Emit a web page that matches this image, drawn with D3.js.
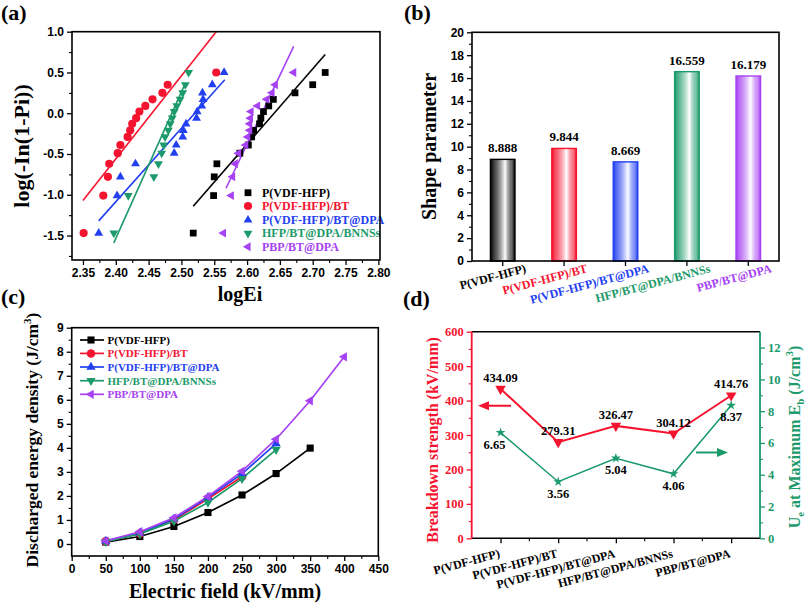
<!DOCTYPE html>
<html><head><meta charset="utf-8">
<script src="https://cdn.jsdelivr.net/npm/d3@7"></script>
<style>body{margin:0;background:#fff} svg{display:block}</style>
</head><body><svg id="c" width="808" height="605"></svg>
<script>
const SERIF = '"Liberation Serif","Times New Roman",serif';
const SANS = '"Liberation Sans",Arial,sans-serif';

// ---------- data ----------
const samples = ["P(VDF-HFP)","P(VDF-HFP)/BT","P(VDF-HFP)/BT@DPA","HFP/BT@DPA/BNNSs","PBP/BT@DPA"];
const colors = ["#000000","#f5142f","#2340f0","#1c9a6b","#a642f2"];

// (a) Weibull plot
const weibullY = [-1.47,-1.01,-0.78,-0.62,-0.49,-0.39,-0.29,-0.21,-0.13,-0.06,0.02,0.09,0.17,0.25,0.35,0.50];
const logE_vdf   = [2.518,2.549,2.550,2.554,2.589,2.602,2.607,2.610,2.619,2.621,2.625,2.633,2.640,2.673,2.700,2.719];
const logE_bt    = [2.351,2.381,2.388,2.390,2.403,2.407,2.418,2.422,2.425,2.431,2.436,2.445,2.456,2.471,2.479,2.553];
const logE_btdpa = [2.374,2.402,2.407,2.430,2.489,2.492,2.502,2.503,2.507,2.523,2.524,2.531,2.533,2.532,2.547,2.565];
const logE_bnns  = [2.397,2.419,2.458,2.465,2.470,2.473,2.475,2.480,2.483,2.486,2.489,2.493,2.498,2.502,2.506,2.511];
const logE_pbp   = [2.564,2.576,2.578,2.582,2.587,2.598,2.601,2.604,2.604,2.605,2.606,2.616,2.630,2.638,2.643,2.671];
const fitX0 = [2.518,2.350,2.374,2.397,2.568];
const fitY0 = [-1.14,-1.07,-1.32,-1.59,-0.92];
const fitX1 = [2.719,2.553,2.566,2.506,2.671];
const fitY1 = [0.72,1.00,0.41,0.37,0.82];
const aXTicks = [2.35,2.40,2.45,2.50,2.55,2.60,2.65,2.70,2.75,2.80];
const aYTicks = [-1.5,-1.0,-0.5,0.0,0.5,1.0];

// (b) shape parameter
const shapeParam = [8.888,9.844,8.669,16.559,16.179];
const bYTicks = [0,2,4,6,8,10,12,14,16,18,20];

// (c) discharged energy density
const fieldC = [50,100,150,200,250,300,350,400];
const ued_vdf   = [0.08,0.31,0.73,1.31,2.04,2.93,3.99];
const ued_bt    = [0.11,0.44,1.00,1.88,2.80];
const ued_btdpa = [0.12,0.46,1.04,1.94,2.92,4.18];
const ued_bnns  = [0.10,0.42,0.95,1.73,2.72,3.93];
const ued_pbp   = [0.13,0.51,1.09,1.98,3.03,4.36,5.96,7.79];
const cXTicks = [0,50,100,150,200,250,300,350,400,450];
const cYTicks = [0,1,2,3,4,5,6,7,8,9];

// (d) breakdown strength / Ue
const breakdown = [434.09,279.31,326.47,304.12,414.76];
const ueMax = [6.65,3.56,5.04,4.06,8.37];
const dLTicks = [0,100,200,300,400,500,600];
const dRTicks = [0,2,4,6,8,10,12];

// ---------- helpers ----------
const svg = d3.select('#c');
svg.append('rect').attr('width',808).attr('height',605).attr('fill','#fff');

function text(g, x, y, str, o={}) {
  const t = g.append('text')
    .attr('transform', `translate(${x},${y})` + (o.rot ? ` rotate(${o.rot})` : ''))
    .attr('text-anchor', o.anchor || 'start')
    .attr('fill', o.color || '#000')
    .style('font-family', o.font || SERIF)
    .style('font-size', (o.size || 12) + 'px')
    .style('font-weight', 'bold');
  if (str !== null) t.text(str);
  return t;
}
function axis(type, scale, pos, majors, minors, fmt, o={}) {
  const gen = {bottom:d3.axisBottom, left:d3.axisLeft, right:d3.axisRight}[type];
  const tr = type === 'bottom' ? `translate(0,${pos})` : `translate(${pos},0)`;
  const color = o.color || '#000';
  const g = svg.append('g').attr('transform', tr);
  g.call(gen(scale).tickValues(majors).tickSize(5).tickSizeOuter(0).tickPadding(o.pad || 3).tickFormat(fmt));
  g.select('.domain').remove();
  g.selectAll('.tick line').attr('stroke', color).attr('stroke-width', 1.3);
  g.selectAll('.tick text').attr('fill', o.textColor || color)
    .style('font-family', o.font || SANS).style('font-size', (o.size || 12) + 'px').style('font-weight', 'bold');
  if (minors && minors.length) {
    const m = svg.append('g').attr('transform', tr);
    m.call(gen(scale).tickValues(minors).tickSize(3).tickSizeOuter(0).tickFormat(''));
    m.select('.domain').remove();
    m.selectAll('.tick line').attr('stroke', color).attr('stroke-width', 1.1);
  }
  return g;
}
function frame(x0, y0, x1, y1) {
  svg.append('rect').attr('x', x0).attr('y', y0).attr('width', x1 - x0).attr('height', y1 - y0)
    .attr('fill', 'none').attr('stroke', '#000').attr('stroke-width', 1.6);
}
function mids(arr) { const r = []; for (let i = 0; i < arr.length - 1; i++) r.push((arr[i] + arr[i+1]) / 2); return r; }
const symTypes = [d3.symbolSquare, d3.symbolCircle, d3.symbolTriangle, d3.symbolTriangle, d3.symbolTriangle];
const symRot = [0, 0, 0, 180, -90];
const symSize = [46, 52, 34, 34, 34];
function marker(g, x, y, i, scale=1) {
  g.append('path').attr('d', d3.symbol().type(symTypes[i]).size(symSize[i] * scale)())
    .attr('transform', `translate(${x},${y}) rotate(${symRot[i]})`)
    .attr('fill', colors[i]);
}

// ---------- panel (a) ----------
{
  const x = d3.scaleLinear().domain([2.3333, 2.8025]).range([72, 380]);
  const y = d3.scaleLinear().domain([-1.8, 1.0]).range([260, 31.7]);
  const series = [logE_vdf, logE_bt, logE_btdpa, logE_bnns, logE_pbp];
  const g = svg.append('g');
  series.forEach((s, i) => {
    g.append('line').attr('x1', x(fitX0[i])).attr('y1', y(fitY0[i])).attr('x2', x(fitX1[i])).attr('y2', y(fitY1[i]))
      .attr('stroke', colors[i]).attr('stroke-width', 1.6);
  });
  series.forEach((s, i) => { s.forEach((v, k) => marker(g, x(v), y(weibullY[k]), i)); });
  frame(72, 31.7, 380, 260);
  axis('bottom', x, 260, aXTicks, mids(aXTicks), d => d.toFixed(2));
  axis('left', y, 72, aYTicks, [-1.75].concat(mids(aYTicks)), d => d.toFixed(1));
  // legend
  const ly = [192.7, 206, 220, 233.3, 246.7];
  samples.forEach((s, i) => {
    marker(g, 248, ly[i], i);
    text(g, 262, ly[i] + 4, s, {color: colors[i], size: 12});
  });
  text(svg, 29, 146, 'log(-In(1-Pi))', {rot: -90, anchor: 'middle', size: 22});
  text(svg, 240, 301, 'logEi', {anchor: 'middle', size: 20});
  text(svg, 1, 20, '(a)', {size: 22});
}

// ---------- panel (b) ----------
{
  const x = d3.scaleBand().domain(samples).range([472, 779]).paddingInner(0.6).paddingOuter(0.3);
  const y = d3.scaleLinear().domain([0, 20]).range([261, 32.3]);
  const defs = svg.append('defs');
  colors.forEach((c, i) => {
    const lg = defs.append('linearGradient').attr('id', 'bg' + i).attr('x1', 0).attr('x2', 1).attr('y1', 0).attr('y2', 0);
    [[0, c, 1], [0.15, c, 0.75], [0.6, '#ffffff', 1], [0.88, c, 0.6], [1, c, 1]].forEach(([o, col, op]) =>
      lg.append('stop').attr('offset', o).attr('stop-color', col).attr('stop-opacity', op));
  });
  const g = svg.append('g');
  shapeParam.forEach((v, i) => {
    g.append('rect').attr('x', x(samples[i])).attr('y', y(v)).attr('width', x.bandwidth()).attr('height', y(0) - y(v))
      .attr('fill', `url(#bg${i})`).attr('stroke', colors[i]).attr('stroke-width', 1.4);
    text(g, x(samples[i]) + x.bandwidth() / 2, y(v) - 7, v.toFixed(3), {anchor: 'middle', size: 13});
    text(g, x(samples[i]) + x.bandwidth() / 2 + 24, 272, samples[i], {anchor: 'end', rot: -15, color: colors[i], size: 12});
  });
  frame(472, 32.3, 779, 261);
  axis('bottom', x, 261, samples, [], () => '');
  axis('left', y, 472, bYTicks, mids(bYTicks), d => d);
  text(svg, 436, 146.5, 'Shape parameter', {rot: -90, anchor: 'middle', size: 20});
  text(svg, 404, 20, '(b)', {size: 22});
}

// ---------- panel (c) ----------
{
  const x = d3.scaleLinear().domain([0, 450]).range([71.7, 378.3]);
  const y = d3.scaleLinear().domain([-0.5, 9]).range([556, 327.7]);
  const series = [ued_vdf, ued_bt, ued_btdpa, ued_bnns, ued_pbp];
  const g = svg.append('g');
  const line = d3.line().x((d, k) => x(fieldC[k])).y(d => y(d));
  series.forEach((s, i) => {
    g.append('path').attr('d', line(s)).attr('fill', 'none').attr('stroke', colors[i]).attr('stroke-width', 1.7);
  });
  series.forEach((s, i) => { s.forEach((v, k) => marker(g, x(fieldC[k]), y(v), i, 1.1)); });
  frame(71.7, 327.7, 378.3, 556);
  axis('bottom', x, 556, cXTicks, mids(cXTicks), d => d);
  axis('left', y, 71.7, cYTicks, mids(cYTicks), d => d);
  const ly = [340, 353.4, 367, 380.7, 394.3];
  samples.forEach((s, i) => {
    g.append('line').attr('x1', 80).attr('x2', 104).attr('y1', ly[i]).attr('y2', ly[i]).attr('stroke', colors[i]).attr('stroke-width', 1.7);
    marker(g, 91, ly[i], i, 1.1);
    text(g, 107.5, ly[i] + 4, s, {color: colors[i], size: 11});
  });
  const yt = text(svg, 38, 440, null, {rot: -90, anchor: 'middle', size: 17.5});
  yt.append('tspan').text('Discharged energy density (J/cm');
  yt.append('tspan').attr('dy', -7).style('font-size', '11px').text('3');
  yt.append('tspan').attr('dy', 7).text(')');
  text(svg, 225, 598, 'Electric field (kV/mm)', {anchor: 'middle', size: 20});
  text(svg, 1, 304, '(c)', {size: 22});
}

// ---------- panel (d) ----------
{
  const RED = '#f5142f', GRN = '#1c9a6b';
  const x = d3.scalePoint().domain(samples).range([471.7, 760]).padding(0.5);
  const yL = d3.scaleLinear().domain([0, 600]).range([538.3, 331.7]);
  const yR = d3.scaleLinear().domain([0, 13]).range([538.3, 331.7]);
  const g = svg.append('g');
  // frame lines
  g.append('line').attr('x1', 471.7).attr('x2', 760).attr('y1', 331.7).attr('y2', 331.7).attr('stroke', '#000').attr('stroke-width', 1.6);
  g.append('line').attr('x1', 471.7).attr('x2', 760).attr('y1', 538.3).attr('y2', 538.3).attr('stroke', '#000').attr('stroke-width', 1.6);
  g.append('line').attr('x1', 471.7).attr('x2', 471.7).attr('y1', 331.7).attr('y2', 538.3).attr('stroke', RED).attr('stroke-width', 1.8);
  g.append('line').attr('x1', 760).attr('x2', 760).attr('y1', 331.7).attr('y2', 538.3).attr('stroke', GRN).attr('stroke-width', 1.8);
  const lineL = d3.line().x((d, k) => x(samples[k])).y(d => yL(d));
  const lineR = d3.line().x((d, k) => x(samples[k])).y(d => yR(d));
  g.append('path').attr('d', lineL(breakdown)).attr('fill', 'none').attr('stroke', RED).attr('stroke-width', 2);
  g.append('path').attr('d', lineR(ueMax)).attr('fill', 'none').attr('stroke', GRN).attr('stroke-width', 1.5);
  breakdown.forEach((v, k) => {
    g.append('path').attr('d', d3.symbol().type(d3.symbolTriangle).size(48)())
      .attr('transform', `translate(${x(samples[k])},${yL(v)}) rotate(180)`).attr('fill', RED);
    text(g, x(samples[k]), yL(v) - 7, v.toFixed(2), {anchor: 'middle', size: 12.5});
  });
  ueMax.forEach((v, k) => {
    g.append('path').attr('d', d3.symbol().type(d3.symbolStar).size(30)())
      .attr('transform', `translate(${x(samples[k])},${yR(v)})`).attr('fill', GRN);
    text(g, x(samples[k]) + (k === 0 ? -6 : 0), yR(v) + 16, v.toFixed(2), {anchor: 'middle', size: 12.5});
  });
  // arrows
  const ay = yL(385), gy = yR(5.4);
  g.append('line').attr('x1', 511).attr('x2', 488).attr('y1', ay).attr('y2', ay).attr('stroke', RED).attr('stroke-width', 2);
  g.append('path').attr('d', `M${478},${ay} L${489},${ay - 4.5} L${489},${ay + 4.5} Z`).attr('fill', RED);
  g.append('line').attr('x1', 696).attr('x2', 718).attr('y1', gy).attr('y2', gy).attr('stroke', GRN).attr('stroke-width', 2);
  g.append('path').attr('d', `M${728},${gy} L${717},${gy - 4.5} L${717},${gy + 4.5} Z`).attr('fill', GRN);

  axis('bottom', x, 538.3, samples, [], () => '');
  const xm = mids(samples.map(s => x(s)));
  xm.forEach(v => g.append('line').attr('x1', v).attr('x2', v).attr('y1', 538.3).attr('y2', 541.3).attr('stroke', '#000').attr('stroke-width', 1.1));
  axis('left', yL, 471.7, dLTicks, mids(dLTicks), d => d, {color: RED, font: SERIF, size: 12.5});
  axis('right', yR, 760, dRTicks, [1, 3, 5, 7, 9, 11], d => d, {color: GRN, font: SERIF, size: 12.5});
  samples.forEach((s, k) => text(g, x(s), 557, s, {anchor: 'end', rot: -15, size: 12}));
  text(svg, 438, 440, 'Breakdown strength (kV/mm)', {rot: -90, anchor: 'middle', color: RED, size: 16});
  const rt = text(svg, 800, 437, null, {rot: -90, anchor: 'middle', color: GRN, size: 16});
  rt.append('tspan').text('U');
  rt.append('tspan').attr('dy', 4).style('font-size', '11px').text('e');
  rt.append('tspan').attr('dy', -4).text(' at Maximum E');
  rt.append('tspan').attr('dy', 4).style('font-size', '11px').text('b');
  rt.append('tspan').attr('dy', -4).text(' (J/cm');
  rt.append('tspan').attr('dy', -7).style('font-size', '11px').text('3');
  rt.append('tspan').attr('dy', 7).text(')');
  text(svg, 403, 306, '(d)', {size: 22});
}
</script>
</body></html>
